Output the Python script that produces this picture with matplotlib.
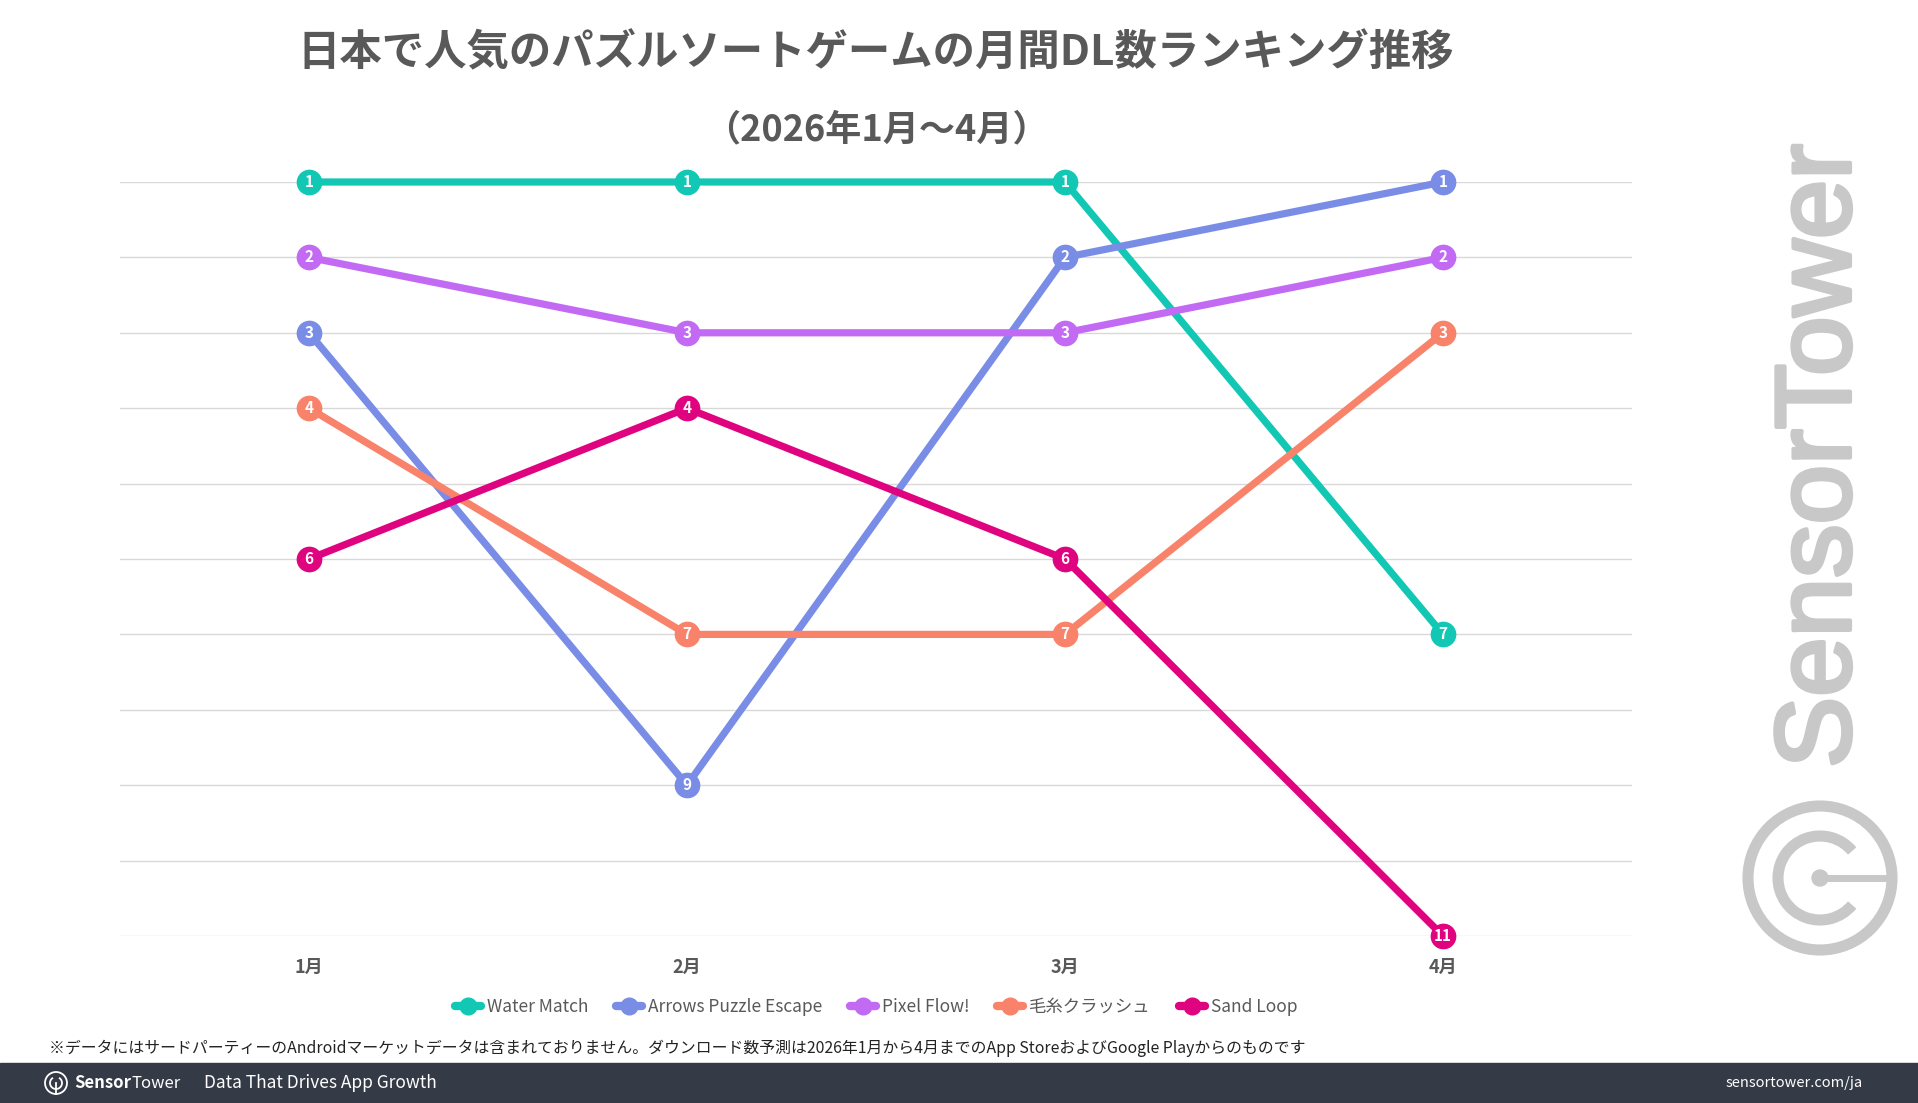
import matplotlib as mpl
mpl.use('Agg')
import matplotlib.pyplot as plt
import matplotlib.patheffects as pe
from matplotlib.patches import Circle, Arc, Rectangle

plt.rcParams['font.family'] = ['Noto Sans CJK JP', 'DejaVu Sans']

# データ
months = ['1月', '2月', '3月', '4月']
apps = ['Water Match', 'Arrows Puzzle Escape', 'Pixel Flow!', '毛糸クラッシュ', 'Sand Loop']
water_match = [1, 1, 1, 7]
arrows_puzzle = [3, 9, 2, 1]
pixel_flow = [2, 3, 3, 2]
keito_crush = [4, 7, 7, 3]
sand_loop = [6, 4, 6, 11]
ranks = [water_match, arrows_puzzle, pixel_flow, keito_crush, sand_loop]
colors = ['#12c8b4', '#7a8de6', '#c36af5', '#f8836a', '#e0037f']

W, H = 1918, 1103
fig = plt.figure(figsize=(W / 100, H / 100), dpi=100)
fig.patch.set_facecolor('white')

ax = fig.add_axes([120 / W, 1 - 936 / H, (1632 - 120) / W, (936 - 182) / H])
x = list(range(len(months)))
for name, r, c in zip(apps, ranks, colors):
    ax.plot(x, r, color=c, lw=5.2, marker='o', ms=17.5, mfc=c, mec=c,
            label=name, clip_on=False, solid_capstyle='round', zorder=3)
    for xi, yi in zip(x, r):
        ax.text(xi, yi, str(yi), color='white', fontsize=11, fontweight='bold',
                ha='center', va='center', zorder=5)

ax.set_xlim(-0.5, 3.5)
ax.set_ylim(11, 1)
ax.set_yticks(range(1, 12))
ax.set_yticklabels([])
ax.set_xticks(x)
ax.set_xticklabels(months, fontsize=13, fontweight='bold', color='#595959')
ax.tick_params(axis='both', length=0)
ax.tick_params(axis='x', pad=16)
ax.grid(axis='y', color='#d9d9d9', lw=1)
ax.set_axisbelow(True)
for s in ax.spines.values():
    s.set_visible(False)

leg = fig.legend(loc='center', bbox_to_anchor=(876 / W, 1 - 1007 / H), ncol=5,
                 frameon=False, fontsize=12.5, handlelength=1.5, handletextpad=0.35,
                 columnspacing=1.6)
for t in leg.get_texts():
    t.set_color('#595959')
for h in leg.legend_handles:
    h.set_markersize(12)
    h.set_linewidth(6)

fig.text(876 / W, 1 - 53 / H, '日本で人気のパズルソートゲームの月間DL数ランキング推移',
         fontsize=30.5, fontweight='bold', color='#595959', ha='center', va='center')
fig.text(876 / W, 1 - 130 / H, '（2026年1月～4月）',
         fontsize=26, fontweight='bold', color='#595959', ha='center', va='center')

fig.text(49 / W, 1 - 1048 / H,
         '※データにはサードパーティーのAndroidマーケットデータは含まれておりません。'
         'ダウンロード数予測は2026年1月から4月までのApp StoreおよびGoogle Playからのものです',
         fontsize=11.4, color='#222222', ha='left', va='center')

# 全体に重ねるピクセル座標の軸（ロゴ・フッター用）
ov = fig.add_axes([0, 0, 1, 1], zorder=-1)
ov.set_xlim(0, W)
ov.set_ylim(H, 0)
ov.axis('off')

# フッター
ov.add_patch(Rectangle((0, 1063), W, H - 1063, color='#343a46', zorder=1))
fx, fy = 56, 1083
ov.add_patch(Circle((fx, fy), 11, fill=False, ec='white', lw=1.3, zorder=2))
ov.add_patch(Arc((fx, fy), 12, 12, theta1=-60, theta2=240, ec='white', lw=1.3, zorder=2))
ov.plot([fx, fx], [fy, fy + 11], color='white', lw=1.3, zorder=2)
t1 = fig.text(74 / W, 1 - 1083 / H, 'Sensor', fontsize=12, fontweight='bold',
              color='white', ha='left', va='center')
fig.canvas.draw()
bb = t1.get_window_extent()
fig.text((bb.x1 + 1) / W, 1 - 1083 / H, 'Tower', fontsize=12, color='white',
         ha='left', va='center')
fig.text(204 / W, 1 - 1083 / H, 'Data That Drives App Growth', fontsize=12.5,
         color='white', ha='left', va='center')
fig.text(1863 / W, 1 - 1083 / H, 'sensortower.com/ja', fontsize=10.5,
         color='white', ha='right', va='center')

# 透かしロゴ
gray = '#c8c8c8'
cx, cy = 1820, 878
ov.add_patch(Circle((cx, cy), 72, fill=False, ec=gray, lw=8))
ov.add_patch(Arc((cx, cy), 84, 84, theta1=40, theta2=320, ec=gray, lw=8))
ov.add_patch(Circle((cx, cy), 8, color=gray))
ov.plot([cx, cx + 68], [cy, cy], color=gray, lw=5)
fig.text(1822 / W, 1 - 456 / H, 'SensorTower', fontsize=77, color=gray,
         rotation=90, ha='center', va='center', family='Liberation Sans',
         path_effects=[pe.withStroke(linewidth=3, foreground=gray)])

fig.savefig('out.png', dpi=100)
